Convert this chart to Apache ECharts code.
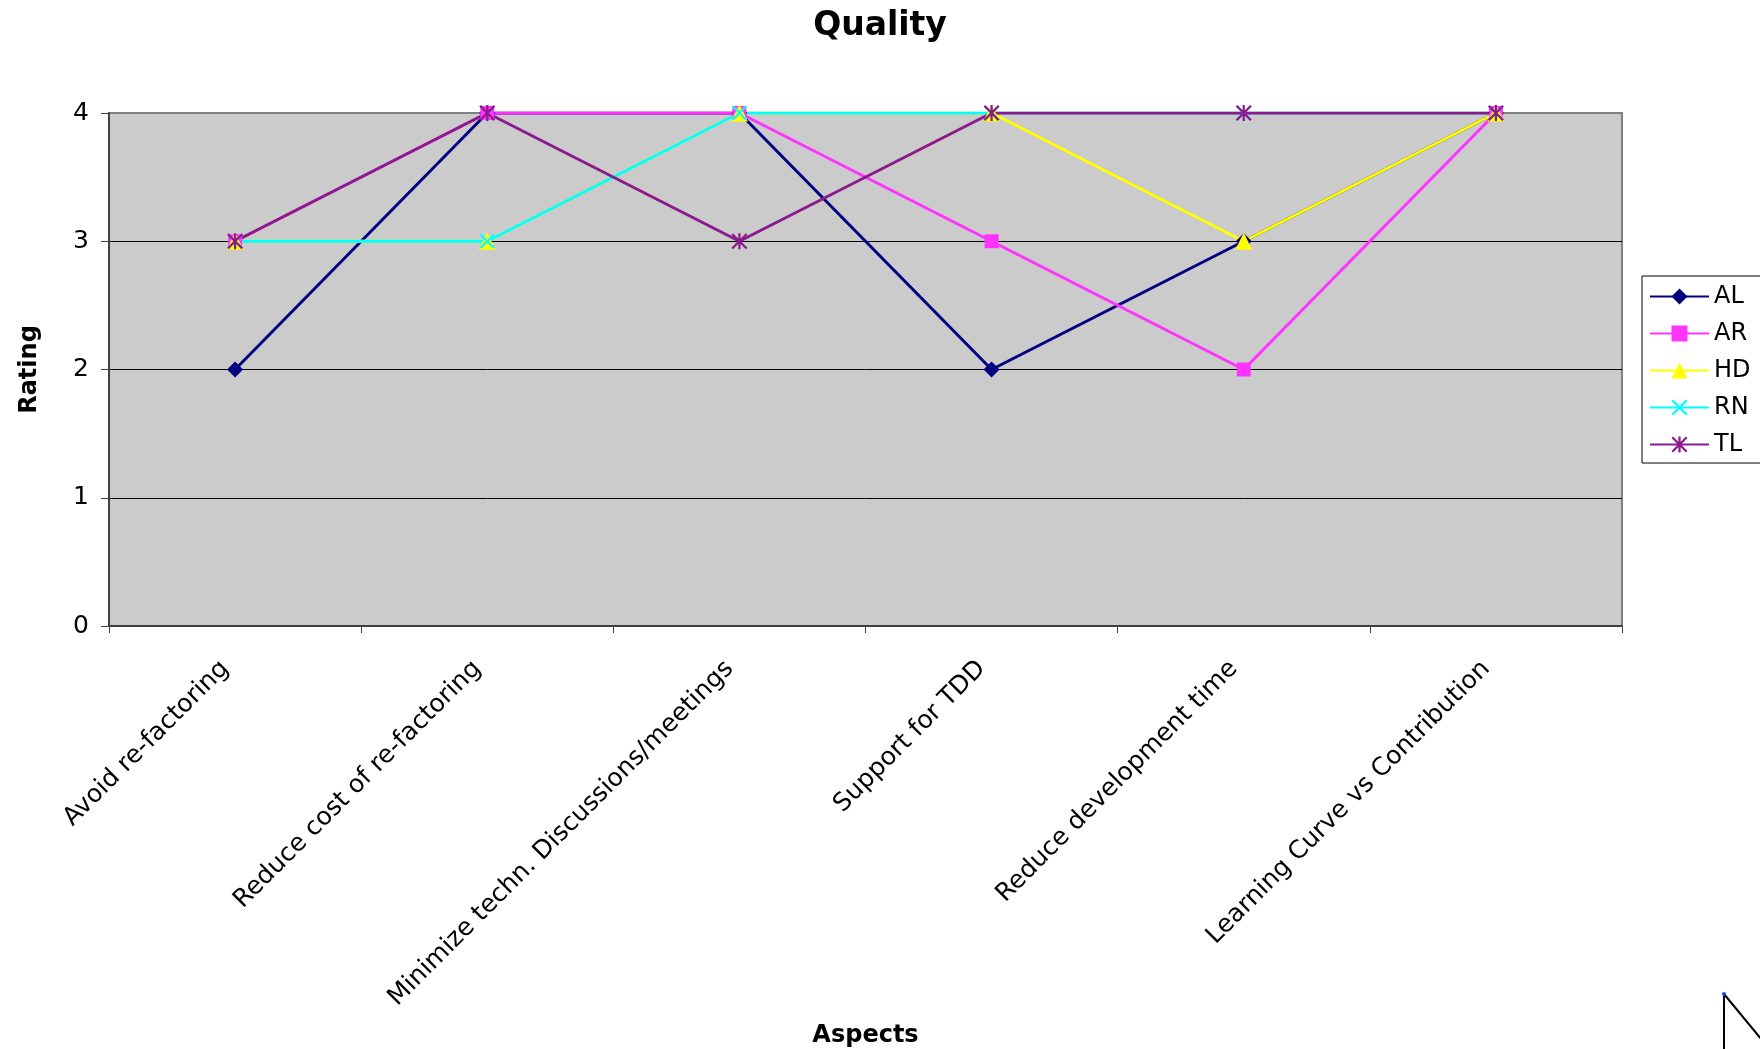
<!DOCTYPE html>
<html>
<head>
<meta charset="utf-8">
<script src="https://cdn.jsdelivr.net/npm/echarts@6/dist/echarts.min.js"></script>
<style>
html,body{margin:0;padding:0;background:#fff;}
#chart{width:1760px;height:1049px;}
</style>
</head>
<body>
<div id="chart"></div>
<script>
var categories = ['Avoid re-factoring', 'Reduce cost of re-factoring', 'Minimize techn. Discussions/meetings', 'Support for TDD', 'Reduce development time', 'Learning Curve vs Contribution'];
var seriesNames = ['AL', 'AR', 'HD', 'RN', 'TL'];
var AL = [2, 4, 4, 2, 3, 4];
var AR = [3, 4, 4, 3, 2, 4];
var HD = [3, 3, 4, 4, 3, 4];
var RN = [3, 3, 4, 4, 4, 4];
var TL = [3, 4, 3, 4, 4, 4];
var yTicks = [0, 1, 2, 3, 4];

var FONT = 'DejaVu Sans';
var xPath = 'path://M0,1 L1,0 L5,4 L9,0 L10,1 L6,5 L10,9 L9,10 L5,6 L1,10 L0,9 L4,5 Z';
var starPath = 'path://M0,1 L1,0 L5,4 L9,0 L10,1 L6,5 L10,9 L9,10 L5,6 L1,10 L0,9 L4,5 Z M4.3,0 L5.7,0 L5.7,10 L4.3,10 Z';

var styles = {
  AL: {color: '#000080', symbol: 'diamond', size: 16},
  AR: {color: '#FF33FF', symbol: 'rect', size: 14},
  HD: {color: '#FFFF00', symbol: 'triangle', size: 17},
  RN: {color: '#00FFFF', symbol: xPath, size: 15},
  TL: {color: '#8B1A8B', symbol: starPath, size: 16}
};
var dataMap = {AL: AL, AR: AR, HD: HD, RN: RN, TL: TL};

var series = seriesNames.map(function (n) {
  var s = styles[n];
  return {
    name: n,
    type: 'line',
    data: dataMap[n],
    symbol: s.symbol,
    symbolSize: s.size,
    showAllSymbol: true,
    animation: false,
    lineStyle: {color: s.color, width: 3},
    itemStyle: {color: s.color, borderWidth: 0},
    emphasis: {disabled: true}
  };
});

var chart = echarts.init(document.getElementById('chart'), null, {renderer: 'canvas'});
chart.setOption({
  animation: false,
  backgroundColor: '#ffffff',
  title: {
    text: 'Quality',
    left: 'center',
    top: 5,
    textStyle: {fontFamily: FONT, fontSize: 33, fontWeight: 'bold', color: '#000'}
  },
  legend: {
    orient: 'vertical',
    left: 1642,
    top: 276,
    padding: [8, 45, 6, 7],
    itemGap: 12,
    itemWidth: 59,
    itemHeight: 20,
    borderColor: '#000',
    borderWidth: 1,
    backgroundColor: '#fff',
    data: seriesNames,
    textStyle: {fontFamily: FONT, fontSize: 24, color: '#000', lineHeight: 25}
  },
  grid: {
    left: 109,
    right: 138,
    top: 113,
    bottom: 423,
    show: true,
    backgroundColor: '#CBCBCB',
    borderColor: '#808080',
    borderWidth: 2
  },
  xAxis: {
    type: 'category',
    data: categories,
    boundaryGap: true,
    name: 'Aspects',
    nameLocation: 'middle',
    nameGap: 398,
    nameTextStyle: {fontFamily: FONT, fontSize: 24, fontWeight: 'bold', color: '#000', verticalAlign: 'top'},
    axisLine: {show: true, lineStyle: {color: '#404040', width: 2}},
    axisTick: {show: true, length: 7, lineStyle: {color: '#404040', width: 1}, alignWithLabel: false},
    axisLabel: {rotate: 45, margin: 29, interval: 0, padding: [0, 14, 0, 0], fontFamily: FONT, fontSize: 25, color: '#000'},
    splitLine: {show: false}
  },
  yAxis: {
    type: 'value',
    min: 0,
    max: 4,
    interval: 1,
    name: 'Rating',
    nameLocation: 'middle',
    nameRotate: 90,
    nameGap: 67,
    nameTextStyle: {fontFamily: FONT, fontSize: 24, fontWeight: 'bold', color: '#000'},
    axisLine: {show: true, lineStyle: {color: '#404040', width: 2}},
    axisTick: {show: true, length: 8, lineStyle: {color: '#404040', width: 1}},
    axisLabel: {
      margin: 20,
      fontFamily: FONT,
      fontSize: 25,
      color: '#000',
      formatter: function (v) { return yTicks.indexOf(v) >= 0 ? String(v) : ''; }
    },
    splitLine: {show: true, lineStyle: {color: ['#000', '#000', '#000', '#000', '#808080'], width: 1}}
  },
  graphic: [
    {type: 'line', shape: {x1: 1724, y1: 994, x2: 1724, y2: 1049}, style: {stroke: '#000', lineWidth: 2}, silent: true},
    {type: 'line', shape: {x1: 1724, y1: 994, x2: 1762, y2: 1040}, style: {stroke: '#000', lineWidth: 2}, silent: true},
    {type: 'circle', shape: {cx: 1724, cy: 994, r: 2}, style: {fill: '#1a3cff'}, silent: true}
  ],
  series: series
});
</script>
</body>
</html>
